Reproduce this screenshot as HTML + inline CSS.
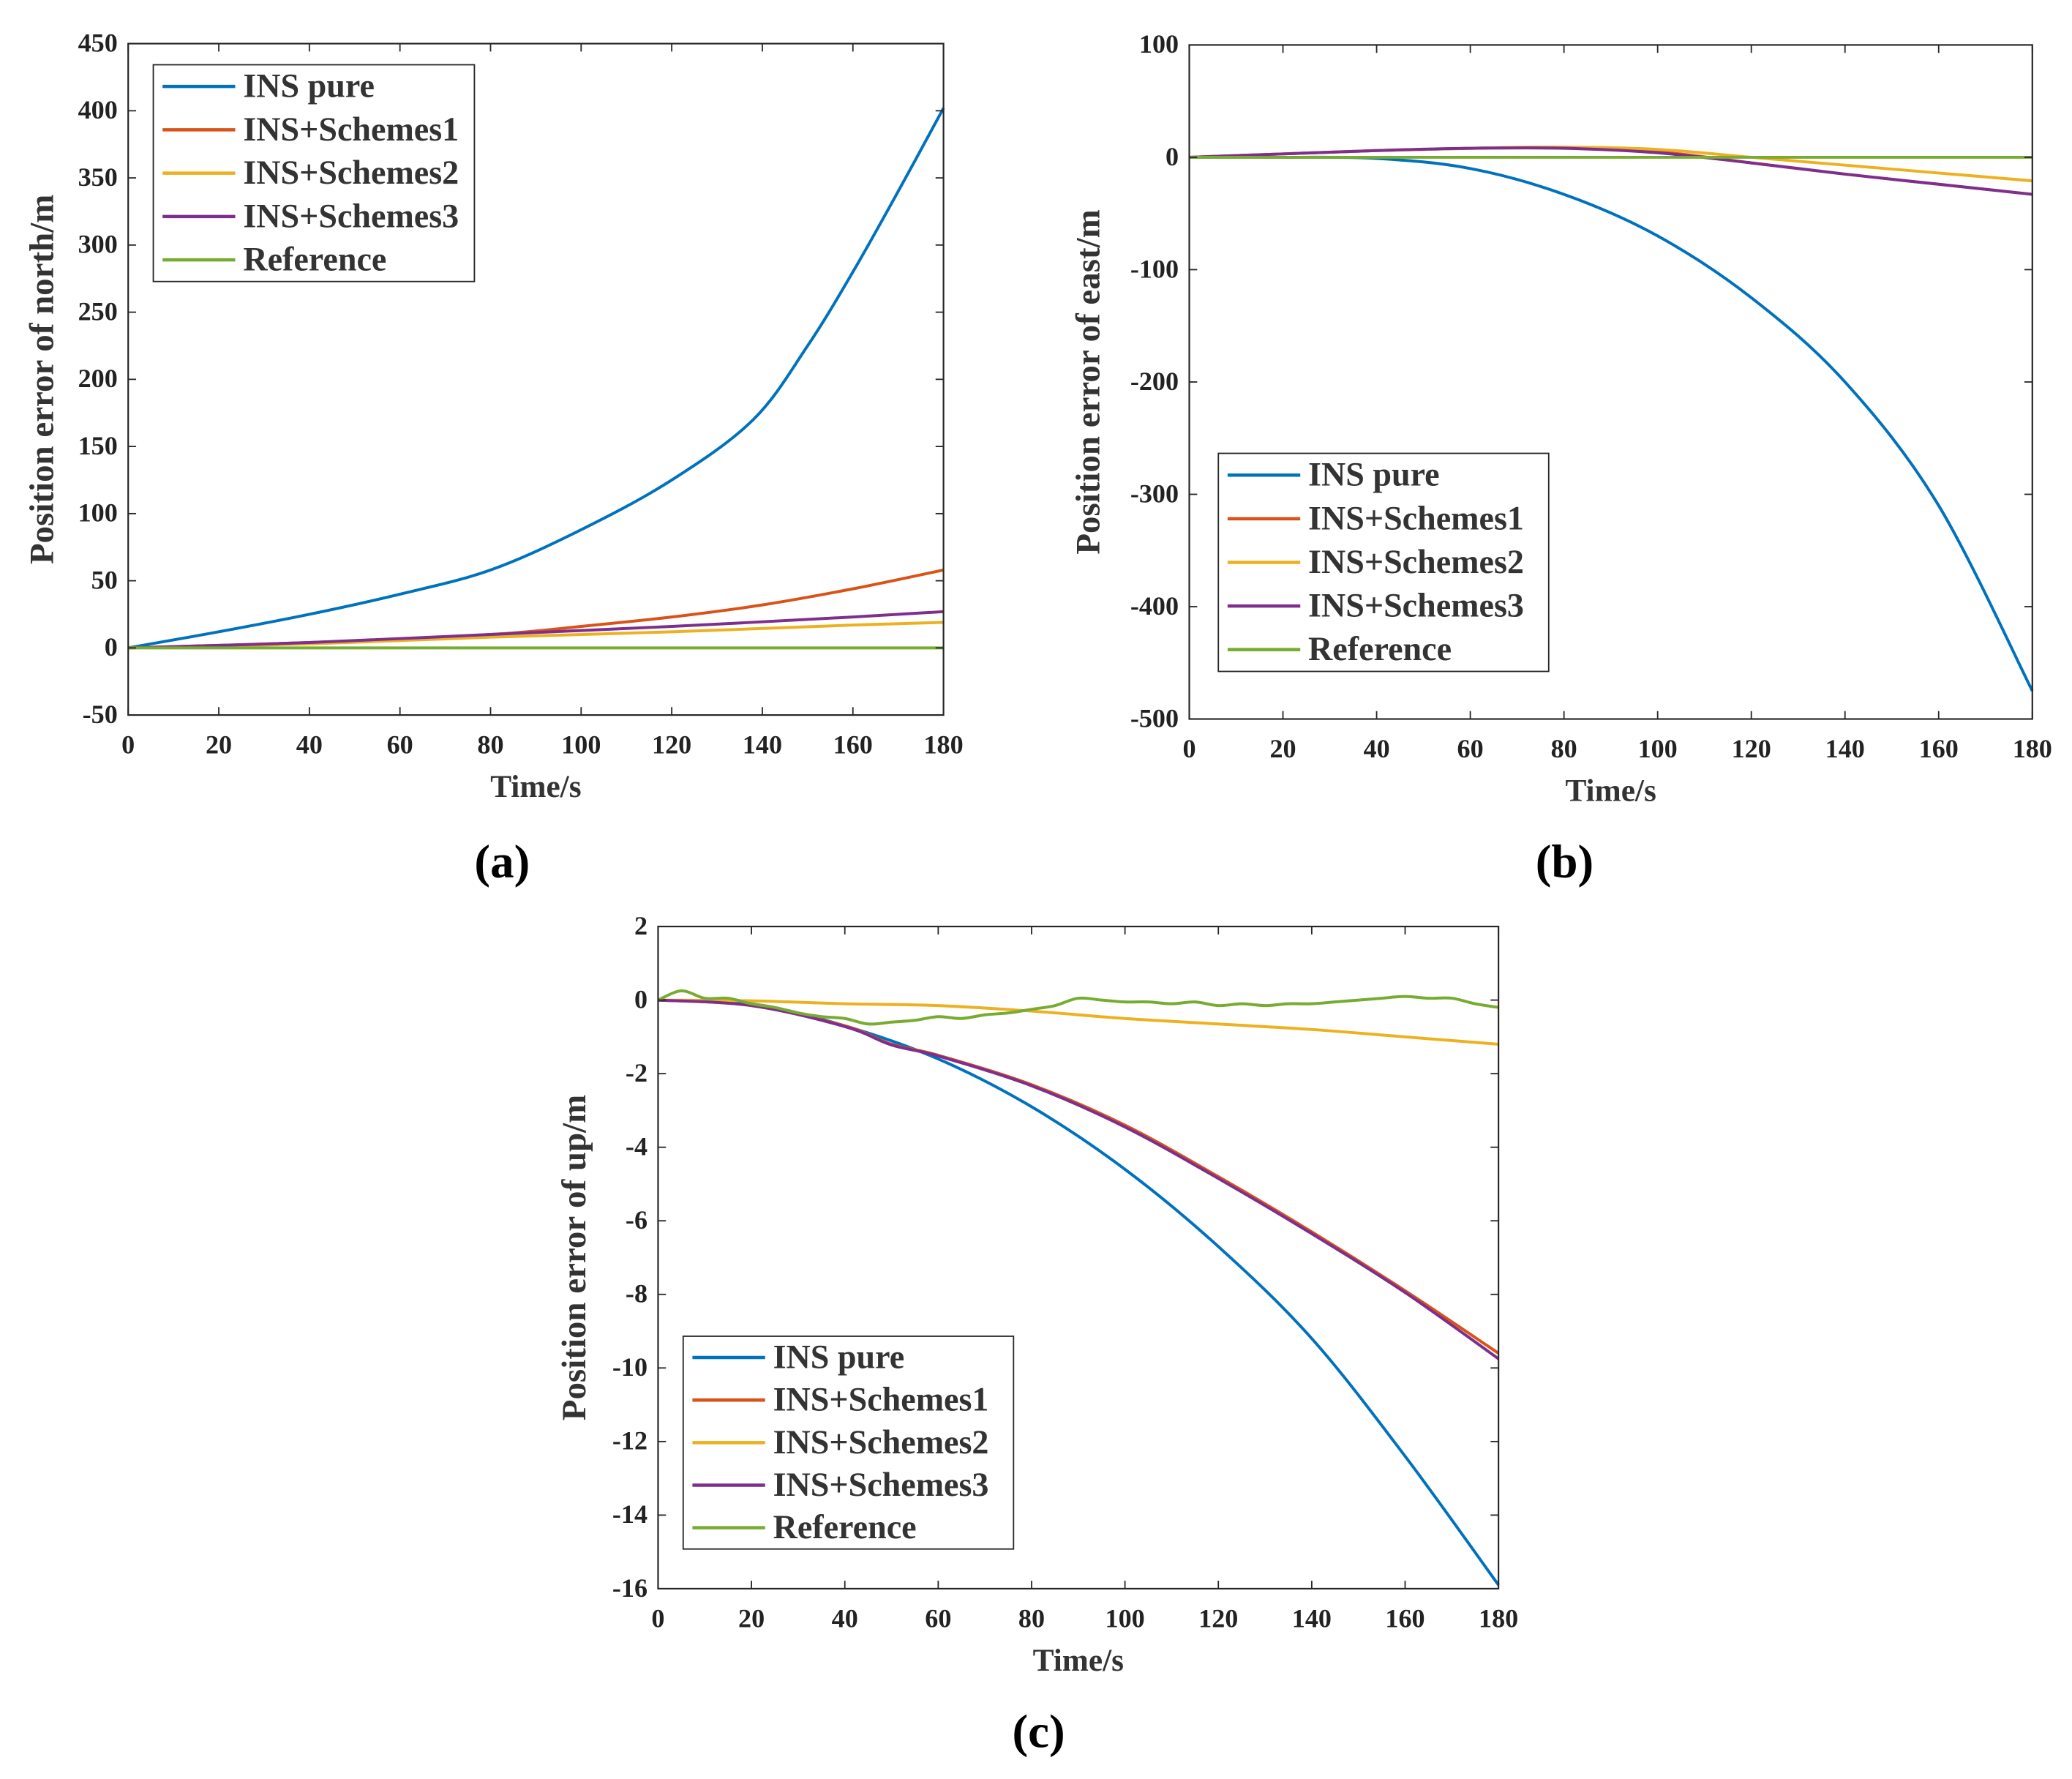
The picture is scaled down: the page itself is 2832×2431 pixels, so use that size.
<!DOCTYPE html>
<html><head><meta charset="utf-8"><style>
html,body{margin:0;padding:0;background:#fff}
svg{display:block}
text{font-family:"Liberation Serif",serif;font-weight:bold;fill:#333}
</style></head><body>
<svg id="fig" width="2832" height="2431" viewBox="0 0 1568 1346"></svg>
<script>
const seriesNames=["INS pure","INS+Schemes1","INS+Schemes2","INS+Schemes3","Reference"];
const colors=["#0072BD","#D95319","#EDB120","#7E2F8E","#77AC30"];
const xTicks=[0,20,40,60,80,100,120,140,160,180];
// panel a
const aTicksY=[-50,0,50,100,150,200,250,300,350,400,450];
const aInsX=[0,20,40,60,80,100,120,138,150,160,170,180];
const aInsY=[0,12,25,40,58,88,125,170,225,280,340,402];
const aS1X=[0,40,80,100,120,140,160,180];
const aS1Y=[0,4,10,16,23,32,44,58];
const aS2X=[0,40,80,120,160,180];
const aS2Y=[0,3,8,12,17,19];
const aS3X=[0,40,80,120,160,180];
const aS3Y=[0,4,10,16,23,27];
const aRefX=[0,180];
const aRefY=[0,0];
// panel b
const bTicksY=[-500,-400,-300,-200,-100,0,100];
const bInsX=[0,20,40,60,80,100,120,140,160,180];
const bInsY=[0,0,-1,-10,-33,-70,-125,-200,-310,-475];
const bS1X=[0,20,40,60,80,100,120,140,160,180];
const bS1Y=[0,3,6,8,9,5,-5,-15,-24,-33];
const bS2X=[0,20,40,60,80,100,120,140,160,180];
const bS2Y=[0,3,6,8,9,7,0,-7,-14,-21];
const bS3X=[0,20,40,60,80,100,120,140,160,180];
const bS3Y=[0,3,6,8,8,4,-5,-15,-24,-33];
const bRefX=[0,180];
const bRefY=[0,0];
// panel c
const cTicksY=[-16,-14,-12,-10,-8,-6,-4,-2,0,2];
const cInsX=[0,20,40,60,80,100,120,140,160,180];
const cInsY=[0,-0.1,-0.7,-1.6,-2.9,-4.6,-6.7,-9.2,-12.4,-15.9];
const cS1X=[0,20,40,50,60,80,100,120,140,160,180];
const cS1Y=[0,-0.15,-0.7,-1.2,-1.5,-2.3,-3.4,-4.8,-6.3,-7.9,-9.6];
const cS2X=[0,20,40,60,80,100,120,140,160,180];
const cS2Y=[0,-0.02,-0.1,-0.15,-0.3,-0.5,-0.65,-0.8,-1.0,-1.2];
const cS3X=[0,20,40,50,60,80,100,120,140,160,180];
const cS3Y=[0,-0.15,-0.72,-1.22,-1.52,-2.33,-3.45,-4.85,-6.35,-7.95,-9.75];
const cRefX=[0,5,10,15,20,25,30,35,40,45,50,55,60,65,70,75,80,85,90,95,100,105,110,115,120,125,130,135,140,145,150,155,160,165,170,175,180];
const cRefY=[0,0.25,0.05,0.05,-0.1,-0.2,-0.35,-0.45,-0.5,-0.65,-0.6,-0.55,-0.45,-0.5,-0.4,-0.35,-0.25,-0.15,0.05,0,-0.05,-0.05,-0.1,-0.05,-0.15,-0.1,-0.15,-0.1,-0.1,-0.05,0,0.05,0.1,0.05,0.05,-0.1,-0.2];

const NS="http://www.w3.org/2000/svg";
const svg=document.getElementById('fig');
function mk(tag,attrs,parent,txt){const e=document.createElementNS(NS,tag);for(const k in attrs)e.setAttribute(k,attrs[k]);if(txt!==undefined)e.textContent=txt;(parent||svg).appendChild(e);return e;}

function smoothPath(pts){
  if(pts.length<3) return pts.map((p,j)=>(j?'L':'M')+p[0].toFixed(2)+','+p[1].toFixed(2)).join(' ');
  let d='M'+pts[0][0].toFixed(2)+','+pts[0][1].toFixed(2);
  for(let i=0;i<pts.length-1;i++){
    const p0=pts[i-1]||pts[i],p1=pts[i],p2=pts[i+1],p3=pts[i+2]||pts[i+1];
    const c1=[p1[0]+(p2[0]-p0[0])/6,p1[1]+(p2[1]-p0[1])/6];
    const c2=[p2[0]-(p3[0]-p1[0])/6,p2[1]-(p3[1]-p1[1])/6];
    d+=` C${c1[0].toFixed(2)},${c1[1].toFixed(2)} ${c2[0].toFixed(2)},${c2[1].toFixed(2)} ${p2[0].toFixed(2)},${p2[1].toFixed(2)}`;
  }
  return d;
}

function panel(cfg){
  const g=mk('g',{});
  
  
  const sx=v=>cfg.x0+(v-0)/(180)*(cfg.x1-cfg.x0);
  const sy=v=>cfg.y1-(v-cfg.ymin)/(cfg.ymax-cfg.ymin)*(cfg.y1-cfg.y0);
  const bg=mk('rect',{x:cfg.x0,y:cfg.y0,width:cfg.x1-cfg.x0,height:cfg.y1-cfg.y0,fill:'#fff'},g);
  
  
  cfg.series.forEach((s,i)=>{
    const pts=s[0].map((x,j)=>[sx(x),sy(s[1][j])]);
    const p=mk('path',{d:smoothPath(pts),fill:'none',stroke:colors[i],'stroke-width':2.2,'stroke-linejoin':'round'},g);
    
    
  });
  const box=mk('rect',{x:cfg.x0,y:cfg.y0,width:cfg.x1-cfg.x0,height:cfg.y1-cfg.y0,fill:'none',stroke:'#262626','stroke-width':1.2},g);
  
  
  xTicks.forEach(t=>{
    const X=sx(t);
    mk('line',{x1:X,x2:X,y1:cfg.y1,y2:cfg.y1-6,stroke:'#262626'},g);
    mk('line',{x1:X,x2:X,y1:cfg.y0,y2:cfg.y0+6,stroke:'#262626'},g);
    const tl=mk('text',{x:X,y:cfg.y1+29,'text-anchor':'middle','font-size':20,style:'fill:#222'},g,t);
    
    
  });
  cfg.ticksY.forEach(t=>{
    const Y=sy(t);
    mk('line',{x1:cfg.x0,x2:cfg.x0+6,y1:Y,y2:Y,stroke:'#262626'},g);
    mk('line',{x1:cfg.x1,x2:cfg.x1-6,y1:Y,y2:Y,stroke:'#262626'},g);
    const tl=mk('text',{x:cfg.x0-8,y:Y+6,'text-anchor':'end','font-size':20,style:'fill:#222'},g,t);
    
    
  });
  const xt=mk('text',{x:(cfg.x0+cfg.x1)/2,y:cfg.y1+62,'text-anchor':'middle','font-size':24},g,'Time/s');
  
  
  const yt=mk('text',{x:0,y:0,'text-anchor':'middle','font-size':26,transform:`translate(${cfg.ylx},${(cfg.y0+cfg.y1)/2}) rotate(-90)`},g,cfg.ylabel);
  
  
  const L=cfg.leg;
  const lg=mk('g',{},g);
  
  
  mk('rect',{x:L[0],y:L[1],width:L[2],height:L[3],fill:'#fff',stroke:'#262626','stroke-width':1},lg);
  const step=L[3]/5;
  seriesNames.forEach((n,i)=>{
    const yy=L[1]+step*(i+0.5);
    const e=mk('g',{},lg);
    
    
    mk('line',{x1:L[0]+7,x2:L[0]+62,y1:yy,y2:yy,stroke:colors[i],'stroke-width':2.5},e);
    mk('text',{x:L[0]+68,y:yy+8,'font-size':25.5},e,n);
  });
  const cap=mk('text',{x:cfg.cap[0],y:cfg.cap[1],'text-anchor':'middle','font-size':36,style:'fill:#000'},g,cfg.capText);
  
  
}

panel({name:'panel-a',x0:97,x1:714,y0:33,y1:541,ymin:-50,ymax:450,ticksY:aTicksY,ylabel:'Position error of north/m',ylx:40,
  series:[[aInsX,aInsY],[aS1X,aS1Y],[aS2X,aS2Y],[aS3X,aS3Y],[aRefX,aRefY]],leg:[116,49,243,164],cap:[380,664],capText:'(a)'});
panel({name:'panel-b',x0:900,x1:1538,y0:34,y1:544,ymin:-500,ymax:100,ticksY:bTicksY,ylabel:'Position error of east/m',ylx:832,
  series:[[bInsX,bInsY],[bS1X,bS1Y],[bS2X,bS2Y],[bS3X,bS3Y],[bRefX,bRefY]],leg:[922,343,250,165],cap:[1184,664],capText:'(b)'});
panel({name:'panel-c',x0:498,x1:1134,y0:701,y1:1202,ymin:-16,ymax:2,ticksY:cTicksY,ylabel:'Position error of up/m',ylx:443,
  series:[[cInsX,cInsY],[cS1X,cS1Y],[cS2X,cS2Y],[cS3X,cS3Y],[cRefX,cRefY]],leg:[517,1011,250,161],cap:[786,1322],capText:'(c)'});
</script>
</body></html>
